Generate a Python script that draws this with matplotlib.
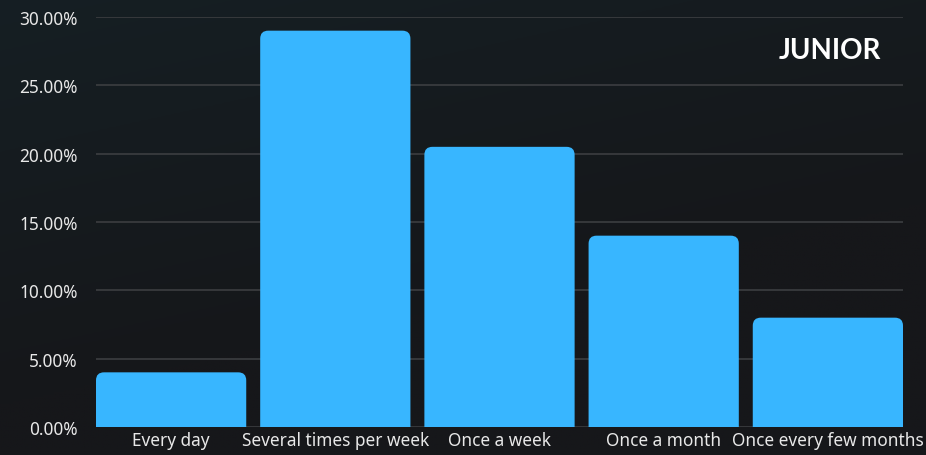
import matplotlib.pyplot as plt
import numpy as np
from matplotlib.patches import FancyBboxPatch
from matplotlib.ticker import FuncFormatter

categories = ['Every day', 'Several times per week', 'Once a week',
              'Once a month', 'Once every few months']
shares = [4.0, 29.0, 20.5, 14.0, 8.0]
y_ticks = [0, 5, 10, 15, 20, 25, 30]
title = 'JUNIOR'

BAR_COLOR = '#38b6ff'
BG = '#16171a'
GRID = '#3c3e41'
TEXT = '#e8e8e8'

plt.rcParams['font.family'] = ['Noto Sans', 'DejaVu Sans']

W, H = 926, 456
fig = plt.figure(figsize=(W / 100, H / 100), dpi=100, facecolor=BG)

# subtle background gradient (darker top-right, slightly teal bottom-left)
bg_ax = fig.add_axes([0, 0, 1, 1], zorder=-10)
gy, gx = np.mgrid[0:1:200j, 0:1:400j]
t = np.clip((gy * 0.9 + (1 - gx) * 0.4) - 0.5, 0, 1)
c0 = np.array([0x16, 0x17, 0x1a]) / 255
c1 = np.array([0x15, 0x21, 0x26]) / 255
img = c0[None, None, :] * (1 - t[..., None]) + c1[None, None, :] * t[..., None]
bg_ax.imshow(img, aspect='auto', origin='lower', extent=[0, 1, 0, 1])
bg_ax.axis('off')

left, right, top, bottom = 96, 903, 18, 428
ax = fig.add_axes([left / W, 1 - bottom / H, (right - left) / W, (bottom - top) / H])
ax.patch.set_alpha(0)

width = 0.915
x = np.arange(len(categories))
ax.set_xlim(-width / 2, len(categories) - 1 + width / 2)
ax.set_ylim(0, 30)

px_x = (right - left) / (ax.get_xlim()[1] - ax.get_xlim()[0])
px_y = (bottom - top) / 30.0
r = 8 / px_x
aspect = px_x / px_y

for xi, v in zip(x, shares):
    p = FancyBboxPatch((xi - width / 2, -2), width, v + 2,
                       boxstyle=f'round,pad=0,rounding_size={r}',
                       mutation_aspect=aspect,
                       facecolor=BAR_COLOR, edgecolor='none', zorder=3)
    ax.add_patch(p)

ax.set_yticks(y_ticks)
ax.yaxis.set_major_formatter(FuncFormatter(lambda v, _: f'{v:.2f}%'))
ax.grid(axis='y', color=GRID, lw=1.2, zorder=0)
ax.set_axisbelow(True)
ax.set_xticks(x)
ax.set_xticklabels(categories)
ax.tick_params(axis='both', length=0, labelsize=12.4, colors=TEXT)
ax.tick_params(axis='y', pad=13)
ax.tick_params(axis='x', pad=3)
for s in ax.spines.values():
    s.set_visible(False)

ax.text(0.973, 0.92, title, transform=ax.transAxes, ha='right', va='center',
        fontsize=20, fontweight='bold', color='white', family=['Lato', 'DejaVu Sans'])

fig.savefig('out.png', dpi=100, facecolor=BG)
